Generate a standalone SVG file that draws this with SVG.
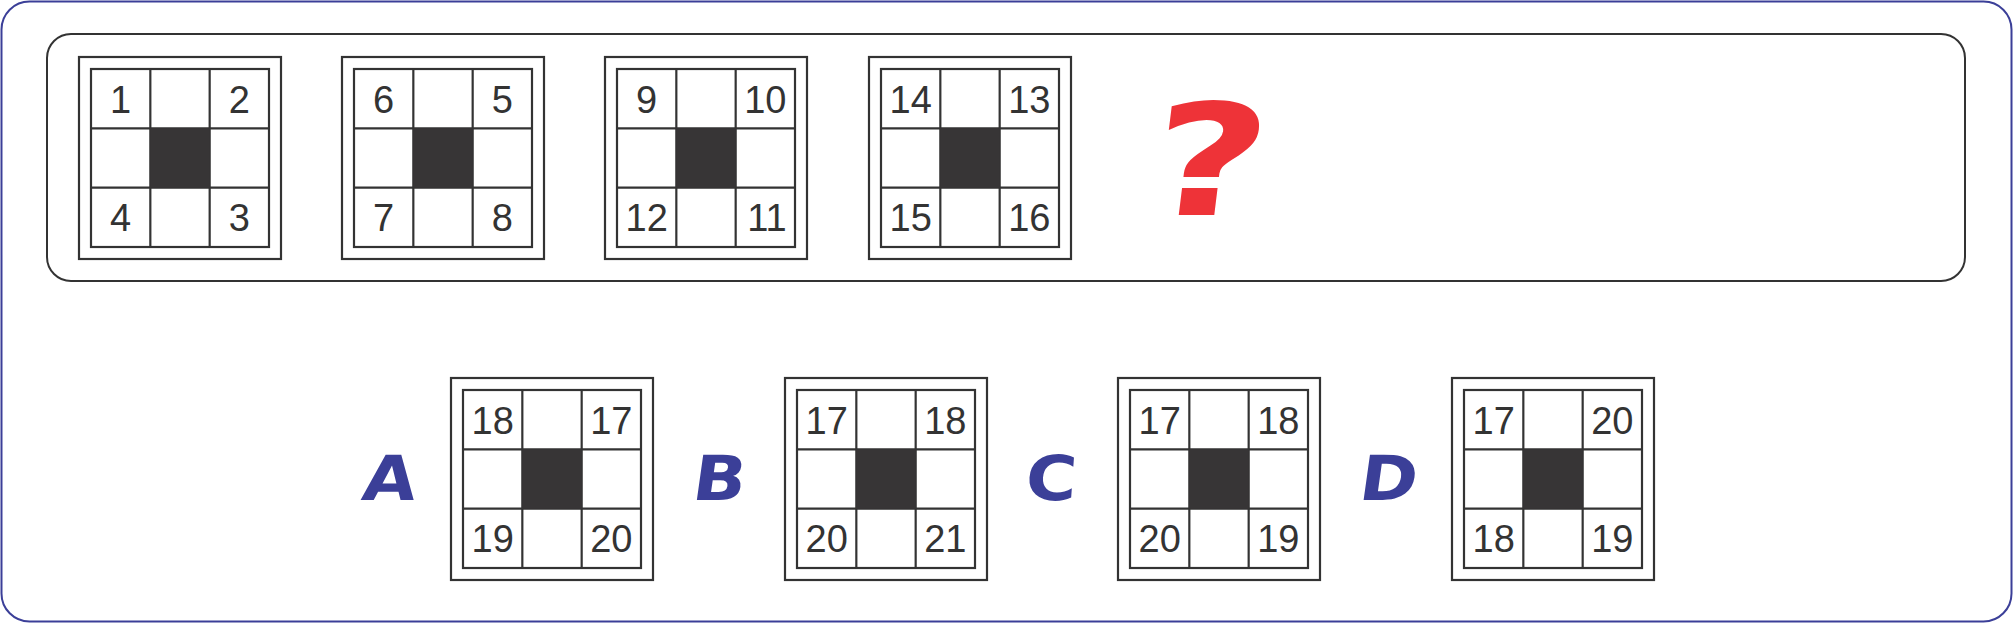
<svg xmlns="http://www.w3.org/2000/svg" xmlns:xlink="http://www.w3.org/1999/xlink" width="2014" height="625" viewBox="0 0 2014 625">
<style>
.frame{fill:#fff;stroke:#3b3f98;stroke-width:2}
.box{fill:none;stroke:#333;stroke-width:2}
.ln{stroke:#333;stroke-width:2.2;fill:none}
.num{font-family:"Liberation Sans",Arial,sans-serif;font-size:38px;fill:#333;text-anchor:middle}
.opt{font-family:"DejaVu Sans",sans-serif;font-weight:bold;font-size:62px;fill:#3b3f98;text-anchor:middle}
.q{font-family:"DejaVu Sans",sans-serif;font-weight:bold;font-size:155px;fill:#ee3338;text-anchor:middle}
</style>
<defs>
<g id="panel">
<rect x="0" y="0" width="202" height="202" fill="#fff" class="ln"/>
<rect x="12" y="12" width="178" height="178" class="ln"/>
<line x1="71.33" y1="12" x2="71.33" y2="190" class="ln"/>
<line x1="130.67" y1="12" x2="130.67" y2="190" class="ln"/>
<line x1="12" y1="71.33" x2="190" y2="71.33" class="ln"/>
<line x1="12" y1="130.67" x2="190" y2="130.67" class="ln"/>
<rect x="71.33" y="71.33" width="59.34" height="59.34" fill="#373536"/>
</g>
</defs>
<rect id="outer-frame" x="1.5" y="1.5" width="2010" height="620" rx="28" class="frame"/>
<rect id="question-box" x="47" y="34" width="1918" height="247" rx="24" class="box"/>
<g id="p1" transform="translate(79,57)"><use xlink:href="#panel"/>
<text class="num" x="41.67" y="55.67">1</text><text class="num" x="160.33" y="55.67">2</text>
<text class="num" x="41.67" y="174.3">4</text><text class="num" x="160.33" y="174.3">3</text></g>
<g id="p2" transform="translate(342,57)"><use xlink:href="#panel"/>
<text class="num" x="41.67" y="55.67">6</text><text class="num" x="160.33" y="55.67">5</text>
<text class="num" x="41.67" y="174.3">7</text><text class="num" x="160.33" y="174.3">8</text></g>
<g id="p3" transform="translate(605,57)"><use xlink:href="#panel"/>
<text class="num" x="41.67" y="55.67">9</text><text class="num" x="160.33" y="55.67">10</text>
<text class="num" x="41.67" y="174.3">12</text><text class="num" x="162" y="174.3">11</text></g>
<g id="p4" transform="translate(869,57)"><use xlink:href="#panel"/>
<text class="num" x="41.67" y="55.67">14</text><text class="num" x="160.33" y="55.67">13</text>
<text class="num" x="41.67" y="174.3">15</text><text class="num" x="160.33" y="174.3">16</text></g>
<g id="question"><text class="q" transform="translate(1203,215) skewX(-7) scale(1.3,1)">?</text></g>
<g id="optA"><text class="opt" transform="translate(387,500) skewX(-8) scale(1.12,1)">A</text>
<g transform="translate(451,378)"><use xlink:href="#panel"/>
<text class="num" x="41.67" y="55.67">18</text><text class="num" x="160.33" y="55.67">17</text>
<text class="num" x="41.67" y="174.3">19</text><text class="num" x="160.33" y="174.3">20</text></g></g>
<g id="optB"><text class="opt" transform="translate(717,500) skewX(-8) scale(1.12,1)">B</text>
<g transform="translate(785,378)"><use xlink:href="#panel"/>
<text class="num" x="41.67" y="55.67">17</text><text class="num" x="160.33" y="55.67">18</text>
<text class="num" x="41.67" y="174.3">20</text><text class="num" x="160.33" y="174.3">21</text></g></g>
<g id="optC"><text class="opt" transform="translate(1050,500) skewX(-4) scale(1.12,1)">C</text>
<g transform="translate(1118,378)"><use xlink:href="#panel"/>
<text class="num" x="41.67" y="55.67">17</text><text class="num" x="160.33" y="55.67">18</text>
<text class="num" x="41.67" y="174.3">20</text><text class="num" x="160.33" y="174.3">19</text></g></g>
<g id="optD"><text class="opt" transform="translate(1386,500) skewX(-8) scale(1.12,1)">D</text>
<g transform="translate(1452,378)"><use xlink:href="#panel"/>
<text class="num" x="41.67" y="55.67">17</text><text class="num" x="160.33" y="55.67">20</text>
<text class="num" x="41.67" y="174.3">18</text><text class="num" x="160.33" y="174.3">19</text></g></g>
<g id="connectors"/>
</svg>
